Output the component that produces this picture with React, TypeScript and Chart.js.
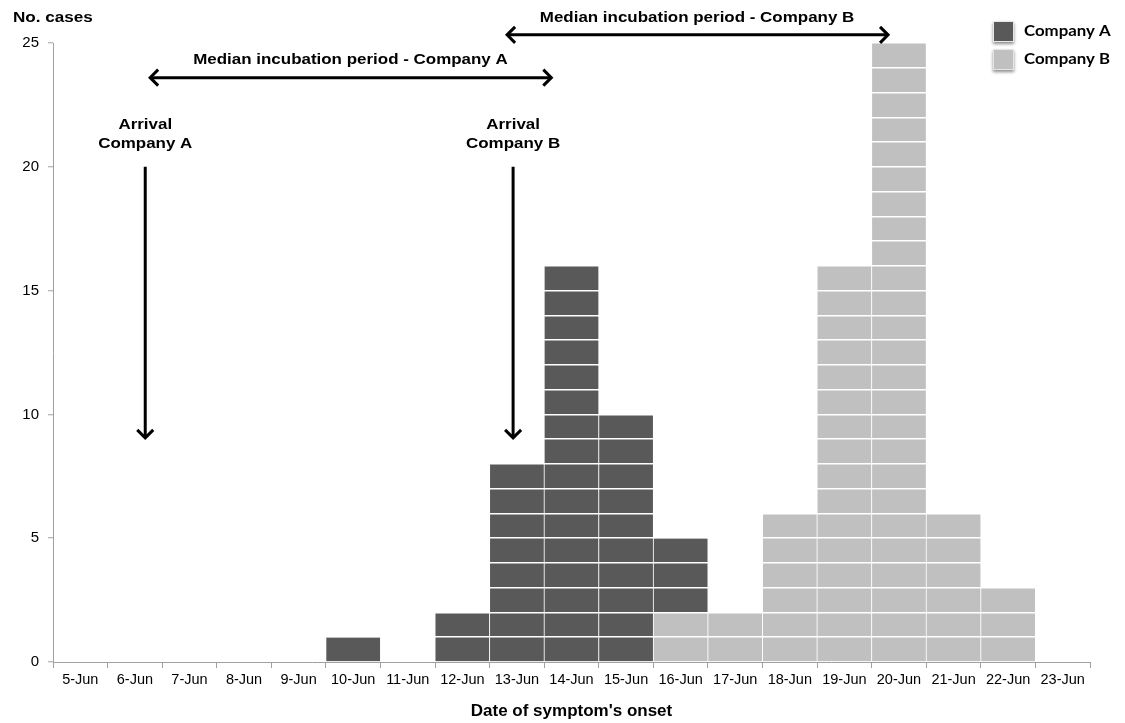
import React, { useEffect, useRef } from "react";
import { Chart, registerables } from "chart.js";

Chart.register(...registerables);

const categories = [
  "5-Jun", "6-Jun", "7-Jun", "8-Jun", "9-Jun", "10-Jun", "11-Jun", "12-Jun", "13-Jun", "14-Jun",
  "15-Jun", "16-Jun", "17-Jun", "18-Jun", "19-Jun", "20-Jun", "21-Jun", "22-Jun", "23-Jun",
];
const companyA = [null, null, null, null, null, 1, null, 2, 8, 16, 10, 3, null, null, null, null, null, null, null];
const companyB = [null, null, null, null, null, null, null, null, null, null, null, 2, 2, 6, 16, 25, 6, 3, null];
const yTickLabels = [0, 5, 10, 15, 20, 25];

const seriesNames = ["Company A", "Company B"];
const seriesColors = ["#595959", "#c0c0c0"];

// annotations in data units (category index, case count)
const arrivalNotes = [
  { lines: ["Arrival", "Company A"], x: 1.19, textX: 1.19, from: 20, to: 9.05 },
  { lines: ["Arrival", "Company B"], x: 7.93, textX: 7.93, from: 20, to: 9.05 },
];
const medianNotes = [
  { text: "Median incubation period - Company A", x1: 1.28, x2: 8.63, y: 23.6, textX: 4.95, textY: 24.32 },
  { text: "Median incubation period - Company B", x1: 7.82, x2: 14.8, y: 25.33, textX: 11.3, textY: 26.02 },
];

const SANS = "'Liberation Sans', Arial, sans-serif";
const STRETCH = 1.13;

function chevron(ctx: CanvasRenderingContext2D, x: number, y: number, dir: string) {
  const s = 8;
  ctx.beginPath();
  if (dir === "down") {
    ctx.moveTo(x - s, y - s);
    ctx.lineTo(x, y);
    ctx.lineTo(x + s, y - s);
  } else if (dir === "left") {
    ctx.moveTo(x + s, y - s);
    ctx.lineTo(x, y);
    ctx.lineTo(x + s, y + s);
  } else {
    ctx.moveTo(x - s, y - s);
    ctx.lineTo(x, y);
    ctx.lineTo(x - s, y + s);
  }
  ctx.stroke();
}

function wideText(ctx: CanvasRenderingContext2D, text: string, x: number, y: number, sx: number) {
  ctx.save();
  ctx.translate(x, y);
  ctx.scale(sx, 1);
  ctx.fillText(text, 0, 0);
  ctx.restore();
}

const annotationPlugin = {
  id: "annotations",
  afterDraw(chart: any) {
    const ctx: CanvasRenderingContext2D = chart.ctx;
    const xs = chart.scales.x;
    const ys = chart.scales.y;
    ctx.save();
    ctx.strokeStyle = "#000";
    ctx.fillStyle = "#000";
    ctx.lineWidth = 3;
    ctx.lineCap = "butt";
    ctx.lineJoin = "miter";
    ctx.font = `bold 15px ${SANS}`;
    ctx.textAlign = "center";
    ctx.textBaseline = "middle";

    arrivalNotes.forEach((n) => {
      const x = xs.getPixelForValue(n.x);
      const y1 = ys.getPixelForValue(n.from);
      const y2 = ys.getPixelForValue(n.to);
      ctx.beginPath();
      ctx.moveTo(x, y1);
      ctx.lineTo(x, y2 - 1);
      ctx.stroke();
      chevron(ctx, x, y2, "down");
      const tx = xs.getPixelForValue(n.textX);
      wideText(ctx, n.lines[0], tx, y1 - 42, STRETCH);
      wideText(ctx, n.lines[1], tx, y1 - 23, STRETCH);
    });

    medianNotes.forEach((n) => {
      const x1 = xs.getPixelForValue(n.x1);
      const x2 = xs.getPixelForValue(n.x2);
      const y = ys.getPixelForValue(n.y);
      ctx.beginPath();
      ctx.moveTo(x1 + 1, y);
      ctx.lineTo(x2 - 1, y);
      ctx.stroke();
      chevron(ctx, x1, y, "left");
      chevron(ctx, x2, y, "right");
      wideText(ctx, n.text, xs.getPixelForValue(n.textX), ys.getPixelForValue(n.textY), STRETCH);
    });

    // y axis title
    ctx.textAlign = "left";
    ctx.font = `bold 15px ${SANS}`;
    wideText(ctx, "No. cases", 13, 18, 1.14);

    // legend
    const lx = 993;
    const ly = [21, 49];
    seriesNames.forEach((name, i) => {
      ctx.save();
      ctx.shadowColor = "rgba(0,0,0,0.45)";
      ctx.shadowBlur = 3;
      ctx.shadowOffsetX = 0;
      ctx.shadowOffsetY = 2;
      ctx.fillStyle = seriesColors[i];
      ctx.fillRect(lx, ly[i], 21, 21);
      ctx.restore();
      ctx.strokeStyle = "#e6e6e6";
      ctx.lineWidth = 1;
      ctx.strokeRect(lx + 0.5, ly[i] + 0.5, 20, 20);
      ctx.fillStyle = "#000";
      ctx.font = "bold 15px Lato, 'Open Sans', sans-serif";
      ctx.textAlign = "left";
      ctx.textBaseline = "middle";
      wideText(ctx, name, 1024, ly[i] + 10.5, 1.12);
    });
    ctx.restore();
  },
};

export default function App() {
  const ref = useRef<HTMLCanvasElement>(null);
  useEffect(() => {
    if (!ref.current) return;
    const barStyle = {
      borderColor: "#ffffff",
      borderWidth: { left: 0.75, right: 0.75, top: 0, bottom: 0 } as any,
      borderSkipped: false as any,
      barPercentage: 1,
      categoryPercentage: 1,
    };
    const chart = new Chart(ref.current, {
      type: "bar",
      data: {
        labels: categories,
        datasets: [
          { label: seriesNames[1], data: companyB as any, backgroundColor: seriesColors[1], ...barStyle },
          { label: seriesNames[0], data: companyA as any, backgroundColor: seriesColors[0], ...barStyle },
        ],
      },
      options: {
        responsive: false,
        animation: false,
        layout: { padding: { top: 43, right: 35, left: 0, bottom: 0 } },
        plugins: {
          legend: { display: false },
          tooltip: { enabled: false },
        },
        scales: {
          x: {
            stacked: true,
            offset: true,
            grid: {
              offset: true,
              drawOnChartArea: false,
              drawTicks: true,
              tickLength: 6,
              tickColor: "#a0a0a0",
            },
            border: { color: "#a0a0a0", width: 1 },
            ticks: {
              color: "#000",
              font: { family: SANS, size: 14.5 },
              maxRotation: 0,
              autoSkip: false,
              padding: 3,
            },
            title: {
              display: true,
              text: "Date of symptom's onset",
              color: "#000",
              font: { family: SANS, size: 17, weight: "bold" },
              padding: { top: 0, bottom: 1 },
            },
            afterFit: (s: any) => {
              s.height = 61;
            },
          },
          y: {
            stacked: true,
            min: 0,
            max: 25,
            grid: {
              z: 1,
              color: (c: any) => (c.tick && c.tick.value > 0 ? "#ffffff" : "rgba(0,0,0,0)"),
              lineWidth: 1.5,
              drawTicks: true,
              tickLength: 5,
              tickColor: (c: any) =>
                c.tick && yTickLabels.includes(c.tick.value) ? "#a0a0a0" : "rgba(0,0,0,0)",
              tickWidth: 1,
            },
            border: { color: "#a0a0a0", width: 1, z: 2 },
            ticks: {
              stepSize: 1,
              autoSkip: false,
              color: "#000",
              font: { family: SANS, size: 15 },
              padding: 9,
              callback: (v: any) => (yTickLabels.includes(Number(v)) ? String(v) : ""),
            },
            afterFit: (s: any) => {
              s.width = 53;
            },
          },
        },
      },
      plugins: [annotationPlugin],
    });
    return () => chart.destroy();
  }, []);
  return (
    <div style={{ position: "fixed", left: 0, top: 0, width: 1125, height: 723, background: "#fff" }}>
      <canvas ref={ref} width={1125} height={723} />
    </div>
  );
}
